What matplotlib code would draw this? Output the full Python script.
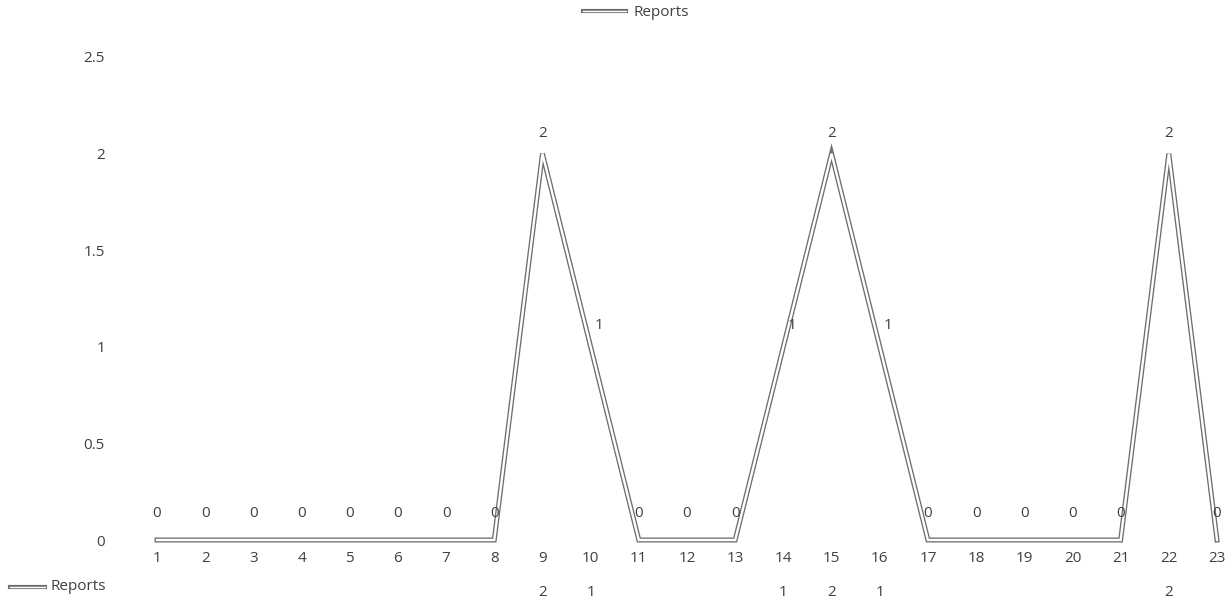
import matplotlib
matplotlib.use('Agg')
import matplotlib.pyplot as plt
import matplotlib.patheffects as pe
from matplotlib.lines import Line2D
from matplotlib.transforms import blended_transform_factory

# ---- data ----
categories = [str(i) for i in range(1, 24)]
reports = [0, 0, 0, 0, 0, 0, 0, 0, 2, 1, 0, 0, 0, 1, 2, 1, 0, 0, 0, 0, 0, 2, 0]
series_name = 'Reports'
yticks = [0, 0.5, 1, 1.5, 2, 2.5]
ytick_labels = ['0', '0.5', '1', '1.5', '2', '2.5']

plt.rcParams['font.family'] = ['Open Sans', 'DejaVu Sans']
TXT = '#404040'
LINE = '#6e6e6e'

W, H = 1231, 608
fig = plt.figure(figsize=(W / 100, H / 100), dpi=100)
L, R, B, T = 123, 1228, 540, 57
ax = fig.add_axes([L / W, (H - B) / H, (R - L) / W, (B - T) / H])

xs = list(range(1, len(categories) + 1))
x1px, xnpx = 157, 1217
ppu = (xnpx - x1px) / (len(xs) - 1)
ax.set_xlim(1 - (x1px - L) / ppu, xs[-1] + (R - xnpx) / ppu)
ax.set_ylim(0, 2.5)

effects = [pe.Stroke(linewidth=3.6, foreground=LINE, joinstyle='miter'), pe.Normal()]
ax.plot(xs, reports, color='white', lw=1.7, solid_joinstyle='miter',
        path_effects=effects, clip_on=False, zorder=3)

for x, v in zip(xs, reports):
    if v == 0:
        off = (0, 14)
        ha = 'center'
    elif v == 2:
        off = (0, 9)
        ha = 'center'
    else:
        off = (3, 10)
        ha = 'left'
    ax.annotate(str(v), (x, v), xytext=off, textcoords='offset points',
                ha=ha, va='bottom', fontsize=11, color=TXT, zorder=4)

ax.set_xticks(xs)
ax.set_xticklabels(categories)
ax.set_yticks(yticks)
ax.set_yticklabels(ytick_labels)
ax.tick_params(axis='x', length=0, pad=8, labelsize=11, labelcolor=TXT)
ax.tick_params(axis='y', length=0, pad=13, labelsize=11, labelcolor=TXT)
for s in ax.spines.values():
    s.set_visible(False)

# data table row
tr = blended_transform_factory(ax.transData, fig.transFigure)
for x, v in zip(xs, reports):
    if v != 0:
        ax.text(x, (H - 593) / H, str(v), transform=tr, ha='center', va='center',
                fontsize=11, color=TXT, clip_on=False)
fig.add_artist(Line2D([10 / W, 45 / W], [(H - 587) / H] * 2, color='white', lw=1.0,
                      path_effects=[pe.Stroke(linewidth=3.0, foreground=LINE), pe.Normal()]))
fig.text(50 / W, (H - 587) / H, series_name, ha='left', va='center', fontsize=11, color=TXT)

# top legend
h = Line2D([], [], color='white', lw=1.0,
           path_effects=[pe.Stroke(linewidth=3.0, foreground=LINE), pe.Normal()])
fig.legend([h], [series_name], loc='center', bbox_to_anchor=(636 / W, (H - 13) / H),
           frameon=False, fontsize=11, labelcolor=TXT, handlelength=2.8, handletextpad=0.5)

fig.savefig('out.png', dpi=100, facecolor='white')
